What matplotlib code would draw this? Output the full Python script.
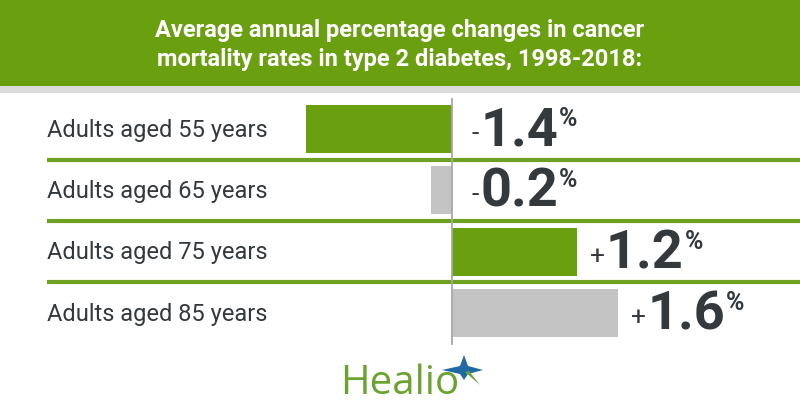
import matplotlib
matplotlib.use("Agg")
import matplotlib.pyplot as plt
from matplotlib.patches import Rectangle, Polygon

# data
labels = ["Adults aged 55 years", "Adults aged 65 years",
          "Adults aged 75 years", "Adults aged 85 years"]
values = [-1.4, -0.2, 1.2, 1.6]
bar_colors = ["#6a9f10", "#c4c4c4", "#6a9f10", "#c4c4c4"]
title = "Average annual percentage changes in cancer\nmortality rates in type 2 diabetes, 1998-2018:"

GREEN = "#6a9f10"
DARK = "#33393c"

fig = plt.figure(figsize=(8, 4.2), dpi=100)
W, H = 800, 420

# header band
fig.patches.append(Rectangle((0, 1 - 86 / H), 1, 86 / H, transform=fig.transFigure,
                             facecolor=GREEN, edgecolor="none"))
fig.patches.append(Rectangle((0, 1 - 93 / H), 1, 7 / H, transform=fig.transFigure,
                             facecolor="#dcdcdc", edgecolor="none"))
fig.text(0.5, 1 - 45 / H, title, ha="center", va="center", color="white",
         fontsize=17, fontweight="bold", family="Roboto", linespacing=1.35)

ax = fig.add_axes([0, 0, 1, 1])
ax.set_axis_off()
px_per_unit = 104
zero_px = 452
ax.set_xlim(-zero_px / px_per_unit, (W - zero_px) / px_per_unit)
pitch = 61.3
row0 = 129
ax.set_ylim((H - row0) / pitch, -row0 / pitch)

rows = list(range(len(values)))
ax.barh(rows, values, height=48 / pitch, color=bar_colors, zorder=2)

# separators
x_sep0 = (47 - zero_px) / px_per_unit
for r in rows[:-1]:
    ax.plot([x_sep0, (W - zero_px) / px_per_unit], [r + 0.5, r + 0.5],
            color="#6ea021", lw=3, solid_capstyle="butt", zorder=3)
# zero line
ax.plot([0, 0], [(99 - row0) / pitch, (344 - row0) / pitch], color="#a8a8a8", lw=1.3, zorder=4)

# category labels
for r, lab in zip(rows, labels):
    ax.text(x_sep0, r + 0.02, lab, ha="left", va="center", fontsize=17, color=DARK, family="Roboto")

# value labels: small sign, big number, small raised %
fig.canvas.draw()
renderer = fig.canvas.get_renderer()
for r, v in zip(rows, values):
    sign = "-" if v < 0 else "+"
    x0 = (max(v, 0) * px_per_unit + zero_px + (20 if v < 0 else 13))
    ytop = row0 + pitch * r
    s = fig.text(x0 / W, 1 - (ytop + 5) / H, sign, ha="left", va="center",
                 fontsize=19, color=DARK, family="Roboto")
    bb = s.get_window_extent(renderer)
    n = fig.text((bb.x1 + 1) / W, 1 - (ytop + 2) / H, f"{abs(v):.1f}", ha="left", va="center",
                 fontsize=39, fontweight="bold", color=DARK, family="Roboto")
    bb2 = n.get_window_extent(renderer)
    fig.text((bb2.x1 + 1) / W, 1 - (ytop - 10) / H, "%", ha="left", va="center",
             fontsize=18, fontweight="bold", color=DARK, family="Roboto")

# Healio logo
fig.text(340 / W, 1 - 384 / H, "Healio", ha="left", va="center", fontsize=29,
         color="#6aa32e", family="Open Sans")
cx, cy = 464, 370
star_pts = [(cx, cy - 15), (cx + 4, cy - 4), (cx + 19, cy), (cx + 4, cy + 4),
            (cx, cy + 10), (cx - 4, cy + 4), (cx - 22, cy), (cx - 4, cy - 4)]
fig.patches.append(Polygon([(x / W, 1 - y / H) for x, y in star_pts], closed=True,
                           transform=fig.transFigure, facecolor="#1f6aa5", edgecolor="none"))
low = [(cx + 1, cy + 2), (cx + 16, cy + 15), (cx + 5, cy + 1)]
fig.patches.append(Polygon([(x / W, 1 - y / H) for x, y in low], closed=True,
                           transform=fig.transFigure, facecolor="#6aa32e", edgecolor="none"))

fig.savefig("out.png", dpi=100)
